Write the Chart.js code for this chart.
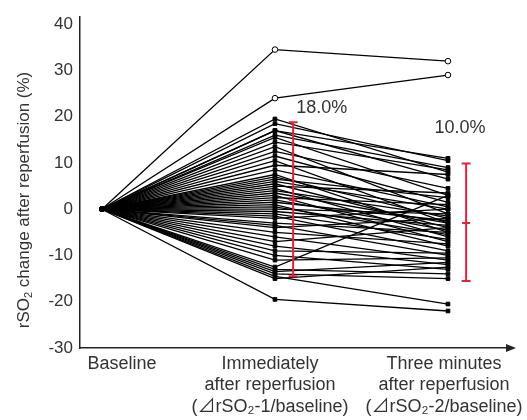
<!DOCTYPE html>
<html>
<head>
<meta charset="utf-8">
<script src="https://cdn.jsdelivr.net/npm/chart.js@4/dist/chart.umd.min.js"></script>
<style>
    html, body { margin: 0; padding: 0; background: #fff; }
    #wrap { width: 527px; height: 420px; }
</style>
</head>
<body>
<div id="wrap"><canvas id="rso2Chart"></canvas></div>
<script>
"use strict";

// x categories (label lines)
var categories = [
    ['Baseline'],
    ['Immediately', 'after reperfusion', '(\u22BFrSO\u2082-1/baseline)'],
    ['Three minutes', 'after reperfusion', '(\u22BFrSO\u2082-2/baseline)']
];

// change of rSO2 (%) per subject, baseline is always 0
var baselineChange = 0;
var immediateChange = [34.5, 24, 19.5, 18.5, 17, 17, 16, 15.5, 14.5, 13.5, 12.5, 11.5, 10.5, 9.5, 8.5, 7.5, 7, 6.5, 6, 5.5,
    5, 4.5, 4, 3.5, 3, 2.5, 2, 1.5, 1, 0.5, 0, -0.5, -1, -1.5, -2, -3, -3.5, -4, -5, -6,
    -7, -8, -9, -10, -11, -12.5, -13, -13.5, -14, -14.5, -15, -19.5];
var threeMinChange = [32, 29, 8, 10.5, 11, 6.5, 9, 3, 8.5, -1, 4.5, 1.5, -3, 7.5, 0.5, -5, -2, 2.5, 0, -4,
    3.5, -6, -1.5, -3, -7, 1, -4.5, -2.5, -8, -5.5, -1, -3.5, -6.5, -9, 0, -5, -10, -2, -7.5, -11,
    -4, -12, -9.5, -13, -10.5, 3, -14, -11.5, -15, -20.5, -12.5, -22];
var openMarkerSubjects = [0, 1];

// error bars (immediately, three minutes)
var errorLow = [-14.5, -15.5];
var errorMid = [2, -3];
var errorHigh = [18.8, 9.9];
var errorLabels = ['18.0%', '10.0%'];

var yTicks = [-30, -20, -10, 0, 10, 20, 30, 40];

var FONT = '"Liberation Sans", "Noto Sans CJK JP", Arial, sans-serif';
var TEXT = '#333';
var RED = '#e3213b';

var datasets = [];

immediateChange.forEach(function (v, i) {
    var open = openMarkerSubjects.indexOf(i) >= 0;
    datasets.push({
        data: [
            { x: 0, y: baselineChange },
            { x: 1, y: v },
            { x: 2, y: threeMinChange[i] }
        ],
        showLine: true,
        borderColor: '#000',
        borderWidth: 1.3,
        pointStyle: open ? ['rect', 'circle', 'circle'] : 'rect',
        pointRadius: open ? [2.6, 2.8, 2.8] : 2.6,
        pointBackgroundColor: open ? ['#000', '#fff', '#fff'] : '#000',
        pointBorderColor: '#000',
        pointBorderWidth: 1,
        order: 2
    });
});

// red SD bars, drawn slightly right of each column
var barOffset = 0.105;
errorLow.forEach(function (low, i) {
    var x = i + 1 + barOffset;
    datasets.push({
        data: [{ x: x, y: errorHigh[i] }, { x: x, y: low }],
        showLine: true,
        borderColor: RED,
        borderWidth: 2,
        pointStyle: 'line',
        pointRadius: 4.5,
        pointBorderColor: RED,
        pointBorderWidth: 2,
        order: 0
    });
    datasets.push({
        data: [{ x: x, y: errorMid[i] }],
        showLine: false,
        pointStyle: 'line',
        pointRadius: 4,
        pointBorderColor: RED,
        pointBorderWidth: 2,
        order: 0
    });
});

var extrasPlugin = {
    id: 'extras',
    afterDraw: function (chart) {
        var ctx = chart.ctx;
        var xs = chart.scales.x;
        var ys = chart.scales.y;
        var area = chart.chartArea;

        // arrow at the end of the x axis
        ctx.save();
        ctx.fillStyle = '#222';
        ctx.beginPath();
        ctx.moveTo(area.right + 8, area.bottom);
        ctx.lineTo(area.right - 2, area.bottom - 4);
        ctx.lineTo(area.right - 2, area.bottom + 4);
        ctx.closePath();
        ctx.fill();

        // percentage labels above the SD bars
        ctx.font = '18px ' + FONT;
        ctx.fillStyle = TEXT;
        ctx.textAlign = 'center';
        ctx.textBaseline = 'middle';
        ctx.fillText(errorLabels[0], xs.getPixelForValue(1.27), ys.getPixelForValue(21.8));
        ctx.fillText(errorLabels[1], xs.getPixelForValue(2.07), ys.getPixelForValue(17.5));

        // y axis title with subscript
        ctx.translate(24, 200);
        ctx.rotate(-Math.PI / 2);
        ctx.textAlign = 'left';
        ctx.textBaseline = 'middle';
        var big = '17px ' + FONT;
        var small = '11px ' + FONT;
        var parts = ['rSO', '2', ' change after reperfusion (%)'];
        ctx.font = big;
        var w0 = ctx.measureText(parts[0]).width;
        var w2 = ctx.measureText(parts[2]).width;
        ctx.font = small;
        var w1 = ctx.measureText(parts[1]).width;
        var x0 = -(w0 + w1 + w2) / 2;
        ctx.font = big;
        ctx.fillText(parts[0], x0, 0);
        ctx.font = small;
        ctx.fillText(parts[1], x0 + w0, 5);
        ctx.font = big;
        ctx.fillText(parts[2], x0 + w0 + w1, 0);
        ctx.restore();
    }
};

var chartCtx = document.getElementById('rso2Chart');
var rso2Chart = new Chart(chartCtx, {
    type: 'scatter',
    data: { datasets: datasets },
    options: {
        responsive: true,
        maintainAspectRatio: false,
        animation: false,
        layout: { padding: { top: 15, right: 19, left: 0, bottom: 0 } },
        plugins: {
            legend: { display: false },
            tooltip: { enabled: false }
        },
        scales: {
            x: {
                type: 'linear',
                min: -0.127,
                max: 2.347,
                grid: { display: false, drawTicks: false },
                border: { display: true, color: '#222', width: 1.5 },
                afterBuildTicks: function (scale) {
                    // label centres (Baseline sits a bit right of its column)
                    scale.ticks = [{ value: 0.116 }, { value: 0.971 }, { value: 1.977 }];
                },
                afterFit: function (scale) {
                    scale.height = 72;
                    scale.paddingLeft = 0;
                    scale.paddingRight = 0;
                },
                ticks: {
                    autoSkip: false,
                    maxRotation: 0,
                    minRotation: 0,
                    padding: 5,
                    color: TEXT,
                    font: { family: FONT, size: 18, lineHeight: 1.2 },
                    callback: function (value, index) {
                        return categories[index];
                    }
                }
            },
            y: {
                min: -30,
                max: 41.5,
                grid: { display: false, drawTicks: false },
                border: { display: true, color: '#222', width: 1.5 },
                afterBuildTicks: function (scale) {
                    scale.ticks = yTicks.map(function (v) { return { value: v }; });
                },
                afterFit: function (scale) {
                    scale.width = 80;
                },
                ticks: {
                    padding: 7,
                    color: TEXT,
                    font: { family: FONT, size: 17 }
                }
            }
        }
    },
    plugins: [extrasPlugin]
});
</script>
</body>
</html>
